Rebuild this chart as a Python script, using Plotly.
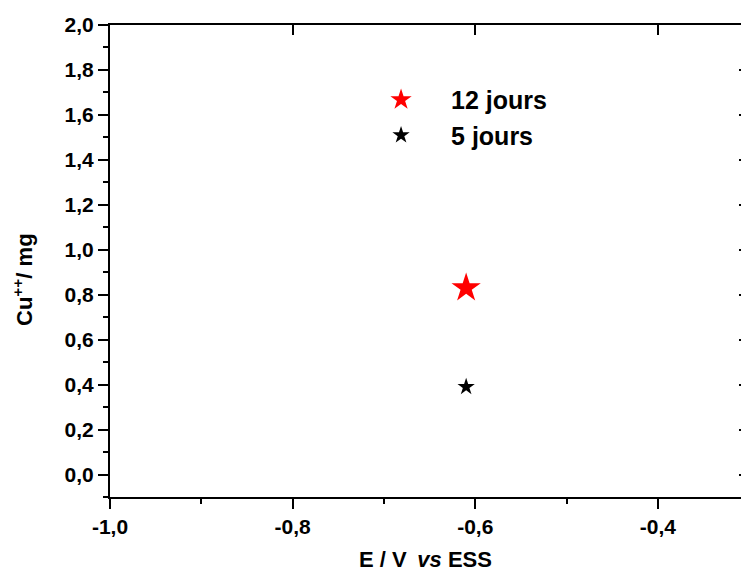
import plotly.graph_objects as go

# Data
series_names = ["12 jours", "5 jours"]
x_12 = [-0.61]
y_12 = [0.83]
x_5 = [-0.61]
y_5 = [0.39]

x_tickvals = [-1.0, -0.8, -0.6, -0.4]
x_ticktext = ["-1,0", "-0,8", "-0,6", "-0,4"]
y_tickvals = [0.0, 0.2, 0.4, 0.6, 0.8, 1.0, 1.2, 1.4, 1.6, 1.8, 2.0]
y_ticktext = ["0,0", "0,2", "0,4", "0,6", "0,8", "1,0", "1,2", "1,4", "1,6", "1,8", "2,0"]
x_title = "E / V\u2009 <i>vs</i> ESS"
y_title = "Cu<sup>++</sup>/ mg"

FONT = "Liberation Sans, Arial, sans-serif"
tickfont = dict(family=FONT, size=21, color="black", weight="bold")
titlefont = dict(family=FONT, size=22, color="black", weight="bold")

fig = go.Figure()
fig.add_trace(go.Scatter(
    x=x_12, y=y_12, mode="markers", name=series_names[0],
    marker=dict(symbol="star", size=22, color="red", line=dict(width=0)),
))
fig.add_trace(go.Scatter(
    x=x_5, y=y_5, mode="markers", name=series_names[1],
    marker=dict(symbol="star", size=13, color="black", line=dict(width=0)),
))
# invisible trace on mirrored axes so they render
fig.add_trace(go.Scatter(x=[None], y=[None], xaxis="x2", yaxis="y2",
                         showlegend=False, hoverinfo="skip"))

xr = [-1.0, -0.309]
yr = [-0.1, 2.0]

fig.update_layout(
    width=741, height=572,
    margin=dict(l=110, r=0, t=25, b=75),
    plot_bgcolor="white", paper_bgcolor="white",
    font=dict(family=FONT, color="black"),
    showlegend=True,
    legend=dict(
        x=0.382, y=0.89, xanchor="left", yanchor="top",
        bgcolor="rgba(0,0,0,0)",
        font=dict(family=FONT, size=25, color="black", weight="bold"),
        itemwidth=90, tracegroupgap=0,
    ),
    xaxis=dict(
        range=xr, showgrid=False, zeroline=False,
        showline=True, linecolor="black", linewidth=2,
        ticks="outside", ticklen=10, tickwidth=1.5, tickcolor="black",
        tickvals=x_tickvals, ticktext=x_ticktext, tickfont=tickfont,
        minor=dict(ticks="outside", ticklen=5, tickwidth=1.5, tickcolor="black",
                   dtick=0.1, tick0=-1.0, showgrid=False),
        title=dict(text=x_title, standoff=18, font=titlefont),
    ),
    yaxis=dict(
        range=yr, showgrid=False, zeroline=False,
        showline=True, linecolor="black", linewidth=2,
        ticks="outside", ticklen=10, tickwidth=1.5, tickcolor="black",
        tickvals=y_tickvals, ticktext=y_ticktext, tickfont=tickfont,
        minor=dict(ticks="outside", ticklen=5, tickwidth=1.5, tickcolor="black",
                   dtick=0.1, tick0=0.0, showgrid=False),
    ),
    xaxis2=dict(
        overlaying="x", side="top", range=xr, showgrid=False, zeroline=False,
        showline=True, linecolor="black", linewidth=2,
        ticks="inside", ticklen=10, tickwidth=1.5, tickcolor="black",
        tickvals=x_tickvals, showticklabels=False,
    ),
    yaxis2=dict(
        overlaying="y", side="right", range=yr, showgrid=False, zeroline=False,
        showline=False,
        ticks="inside", ticklen=2, tickwidth=1.5, tickcolor="black",
        tickvals=y_tickvals, showticklabels=False,
    ),
    annotations=[dict(
        text=y_title, textangle=-90, showarrow=False,
        xref="paper", yref="paper", x=-0.137, y=0.461,
        xanchor="center", yanchor="middle", font=titlefont,
    )],
)

fig.write_html(
    "out.html",
    config={"displayModeBar": False},
    post_script="document.body.style.margin='0';document.body.style.overflow='hidden';",
)
